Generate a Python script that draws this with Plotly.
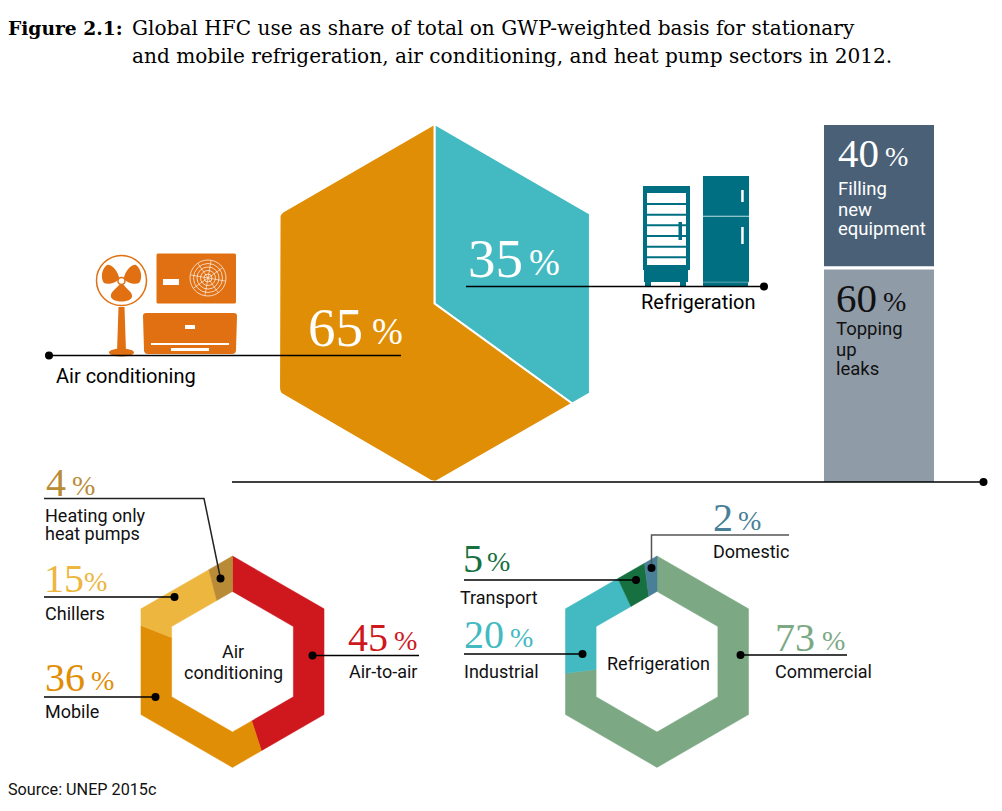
import math
import plotly.graph_objects as go

# ---- data ----
main_names = ["Refrigeration", "Air conditioning"]
main_shares = [35, 65]
main_colors = ["#43BAC1", "#E08E05"]

ac_names = ["Air-to-air", "Mobile", "Chillers", "Heating only heat pumps"]
ac_shares = [45, 36, 15, 4]
ac_colors = ["#CE181E", "#E08E05", "#EDB63F", "#B98B37"]

ref_names = ["Commercial", "Industrial", "Transport", "Domestic"]
ref_shares = [73, 20, 5, 2]
ref_colors = ["#7CA984", "#43BAC1", "#17703F", "#4A7F98"]

bar_names = ["Filling new equipment", "Topping up leaks"]
bar_shares = [40, 60]
bar_colors = ["#4A6076", "#909BA8"]

SERIF = "Liberation Serif"
SANS = "Roboto"
INK = "#111111"


def hex_radius(theta, R):
    t = theta % 60
    return R * math.cos(math.radians(30)) / math.cos(math.radians(t - 30))


def hex_xy(cx, cy, theta, R):
    r = hex_radius(theta, R)
    a = math.radians(theta)
    return cx + r * math.sin(a), cy - r * math.cos(a)


def edge(cx, cy, a0, a1, R, round_px=0):
    """Hexagon outline, clockwise from angle a0 to a1 (degrees from the top)."""
    angles = [a0]
    k = math.floor(a0 / 60) + 1
    while k * 60 < a1:
        angles.append(k * 60)
        k += 1
    angles.append(a1)
    pts = []
    for a in angles:
        p = hex_xy(cx, cy, a, R)
        if round_px and a not in (a0, a1):
            d = round_px / R * 60
            p0 = hex_xy(cx, cy, a - d, R)
            p2 = hex_xy(cx, cy, a + d, R)
            for i in range(7):
                u = i / 6
                pts.append(((1-u)**2*p0[0] + 2*u*(1-u)*p[0] + u*u*p2[0],
                            (1-u)**2*p0[1] + 2*u*(1-u)*p[1] + u*u*p2[1]))
        else:
            pts.append(p)
    return pts


def hex_slices(fig, cx, cy, R, r, shares, colors, names, line=None, round_for=()):
    total = sum(shares)
    start = 0.0
    for i, (s, c, n) in enumerate(zip(shares, colors, names)):
        a0 = start
        a1 = start + 360.0 * s / total
        pts = edge(cx, cy, a0, a1, R, 4.5 if i in round_for else 0)
        if r > 0:
            pts = pts + edge(cx, cy, a0, a1, r)[::-1]
        else:
            pts = pts + [(cx, cy)]
        pts.append(pts[0])
        fig.add_trace(go.Scatter(
            x=[p[0] for p in pts], y=[p[1] for p in pts], mode="lines",
            fill="toself", fillcolor=c,
            line=dict(color=line or c, width=2 if line else 0.5),
            name=n, hoverinfo="name"))
        start = a1


fig = go.Figure()

# stacked bar
bar_top, bar_h = 125, 357
b = bar_top
for name, v, c in zip(bar_names, bar_shares, bar_colors):
    h = v / sum(bar_shares) * bar_h
    fig.add_trace(go.Bar(x=[879], y=[h], base=[b], width=[110], marker=dict(color=c, line=dict(width=0)),
                         name=name, hoverinfo="name"))
    b += h
bar_split = bar_top + bar_shares[0] / sum(bar_shares) * bar_h

# hexagons (angles come from the shares)
hex_slices(fig, 434.5, 303.5, 179.5, 0, main_shares, main_colors, main_names, line="#FFFFFF", round_for=(1,))
hex_slices(fig, 232.5, 661.7, 105.7, 70.3, ac_shares, ac_colors, ac_names)
hex_slices(fig, 657, 661.7, 105.7, 70.3, ref_shares, ref_colors, ref_names)

# leader lines
leaders = [
    ([49, 401], [355.5, 355.5], "#000"),
    ([466, 764], [286.5, 286.5], "#000"),
    ([232, 984], [482, 482], "#000"),
    ([44, 204, 220.5], [498.5, 498.5, 578.5], "#222"),
    ([44, 174.5], [597, 597], "#000"),
    ([44, 155.5], [697, 697], "#000"),
    ([312.5, 419], [655.5, 655.5], "#000"),
    ([789, 651.5, 651.5], [535, 535, 568], "#555"),
    ([464, 636], [580, 580], "#000"),
    ([464, 582.5], [654, 654], "#000"),
    ([740.5, 847], [655, 655], "#000"),
]
for lx, ly, lc in leaders:
    fig.add_trace(go.Scatter(x=lx, y=ly, mode="lines", line=dict(color=lc, width=1.5), hoverinfo="skip"))
dots_x = [49, 764, 983.5, 220.5, 174.5, 155.5, 312.5, 651.5, 636, 582.5, 740.5]
dots_y = [355.5, 286.5, 482, 578.5, 597, 697, 655.5, 568, 580, 654, 655]
fig.add_trace(go.Scatter(x=dots_x, y=dots_y, mode="markers", marker=dict(color="#000", size=8), hoverinfo="skip"))

# ---- text ----
ann = []


def txt(x, y, s, size=17, color=INK, family=SANS, anchor="left", weight=None):
    f = dict(size=size, color=color, family=family)
    if weight:
        f["weight"] = weight
    ann.append(dict(x=x - (1 if anchor == "left" else 0), y=y, text=s, showarrow=False, xanchor=anchor, yanchor="middle",
                    font=f, borderpad=0, xref="x", yref="y"))


def pct(x, y, value, px_x, size, psize, color):
    txt(x, y, str(value), size=size, color=color, family=SERIF)
    txt(px_x, y + size * 0.085, "%", size=psize, color=color, family=SERIF)


TITLE_F = "DejaVu Serif"
txt(8, 28, "<b>Figure 2.1:</b>", 18.7, "#000", TITLE_F)
txt(132, 28, "Global HFC use as share of total on GWP-weighted basis for stationary", 20.1, "#000", TITLE_F)
txt(132, 56, "and mobile refrigeration, air conditioning, and heat pump sectors in 2012.", 20.1, "#000", TITLE_F)

pct(308, 327, main_shares[1], 372, 55, 37, "#FFFFFF")
pct(468, 258, main_shares[0], 529, 55, 37, "#FFFFFF")
txt(56, 376, main_names[1], 20, "#000")
txt(641, 302, main_names[0], 20, "#000")

pct(838, 153, bar_shares[0], 885, 41, 28, "#FFFFFF")
for y, s in zip([189, 210, 229], ["Filling", "new", "equipment"]):
    txt(838, y, s, 18.5, "#FFFFFF")
pct(836, 298, bar_shares[1], 883, 41, 28, "#111111")
for y, s in zip([329, 350, 369], ["Topping", "up", "leaks"]):
    txt(836, y, s, 18.5, "#111111")

pct(46, 482, ac_shares[3], 72, 40, 28, ac_colors[3])
txt(45, 515, "Heating only", 18)
txt(45, 533, "heat pumps", 18)
pct(44, 578, ac_shares[2], 84, 40, 28, ac_colors[2])
txt(45, 613, "Chillers", 18)
pct(45, 677, ac_shares[1], 91, 40, 28, ac_colors[1])
txt(45, 711, "Mobile", 18)
pct(348, 637, ac_shares[0], 394, 40, 28, ac_colors[0])
txt(349, 671, "Air-to-air", 18)
txt(233, 651, "Air", 18, anchor="center")
txt(233, 672, "conditioning", 18, anchor="center")

pct(713, 517, ref_shares[3], 738, 40, 28, ref_colors[3])
txt(713, 551, "Domestic", 18)
pct(463, 558, ref_shares[2], 487, 40, 28, ref_colors[2])
txt(460, 597, "Transport", 18)
pct(464, 634, ref_shares[1], 510, 40, 28, ref_colors[1])
txt(464, 671, "Industrial", 18)
pct(775, 637, ref_shares[0], 822, 40, 28, ref_colors[0])
txt(775, 671, "Commercial", 18)
txt(658, 663, "Refrigeration", 18, anchor="center")
txt(8, 789, "Source: UNEP 2015c", 16.2, "#111111")

# ---- icons ----
shapes = []
ORANGE = "#E07012"
PETROL = "#006F82"
WHITE = "#FFFFFF"


def rect(x0, y0, x1, y1, c):
    shapes.append(dict(type="rect", x0=x0, y0=y0, x1=x1, y1=y1, fillcolor=c, line=dict(width=0), layer="below"))


def circle(cx, cy, rx, ry, fill, lc=None, lw=0):
    shapes.append(dict(type="circle", x0=cx-rx, y0=cy-ry, x1=cx+rx, y1=cy+ry,
                       fillcolor=fill, line=dict(color=lc or fill, width=lw), layer="below"))


def path(d, fill=None, lc=None, lw=0):
    s = dict(type="path", path=d, line=dict(color=lc or "rgba(0,0,0,0)", width=lw), layer="below")
    if fill:
        s["fillcolor"] = fill
    shapes.append(s)


# standing fan
circle(121.5, 280.5, 25, 25, WHITE, ORANGE, 1.5)
path("M119 277 C116 268 110 264 107 265 C102 268 100 278 104 283 C108 285 116 283 119 279 Z", ORANGE)
path("M124 277 C127 268 133 264 136 265 C141 268 143 278 139 283 C135 285 127 283 124 279 Z", ORANGE)
path("M119 285 C116 289 110 292 111 297 C113 303 130 303 132 297 C133 292 126 289 124 285 Z", ORANGE)
circle(121.5, 281, 3.5, 3.5, WHITE, ORANGE, 1.5)
path("M118.5 307 L124.5 307 L126 352 L117 352 Z", ORANGE)
circle(121.5, 352.5, 12.5, 4, ORANGE)
# outdoor unit
path("M158 253.5 L234.5 253.5 Q236 253.5 236 255 L236 302 Q236 303.5 234.5 303.5 L158 303.5 Q156.5 303.5 156.5 302 L156.5 255 Q156.5 253.5 158 253.5 Z", ORANGE)
rect(163, 279, 179, 285, WHITE)
for r in (18, 14.5, 11, 7.5, 4):
    circle(208, 278, r, r, ORANGE, WHITE, 0.7)
for k in range(8):
    a = math.radians(k * 45 + 10)
    shapes.append(dict(type="line", x0=208, y0=278, x1=208 + 18 * math.cos(a), y1=278 + 18 * math.sin(a),
                       line=dict(color=WHITE, width=0.6), layer="below"))
# indoor unit
path("M146 313 L234 313 Q237 313 237 316 L236 350 Q236 354 232 354 L148 354 Q144 354 144 350 L143 316 Q143 313 146 313 Z", ORANGE)
rect(185, 325, 195, 329, WHITE)
rect(151, 343, 229, 345, WHITE)
rect(171, 348, 209, 351, WHITE)
# display fridge
rect(643, 186, 690, 270, PETROL)
rect(647, 193, 686, 265, WHITE)
for y in (204, 214.7, 225.3, 236, 246.7, 257.3):
    rect(647, y - 1, 686, y + 1, PETROL)
rect(678.5, 222, 682, 240, PETROL)
rect(644, 270, 688, 282, PETROL)
rect(645, 282, 651, 286, PETROL)
rect(680, 282, 686, 286, PETROL)
# upright fridge
rect(703, 176, 749, 282, PETROL)
rect(703, 215.8, 749, 216.8, "#BFDCE1")
rect(703, 282, 748, 286, PETROL)
rect(703, 281.7, 749, 282.5, "#7FB6C0")
rect(741.2, 190, 743.7, 202, WHITE)
rect(741.2, 227, 743.7, 244, WHITE)
# gap between the stacked bar segments
shapes.append(dict(type="rect", x0=824, x1=934, y0=bar_split - 1.6, y1=bar_split + 1.6,
                   fillcolor=WHITE, line=dict(width=0), layer="above"))

fig.update_layout(
    width=1002, height=811, margin=dict(l=0, r=0, t=0, b=0),
    paper_bgcolor="white", plot_bgcolor="white", showlegend=False, barmode="overlay",
    xaxis=dict(range=[0, 1002], visible=False, fixedrange=True),
    yaxis=dict(range=[811, 0], visible=False, fixedrange=True),
    annotations=ann, shapes=shapes,
)
fig.write_html("out.html", config=dict(displayModeBar=False),
               post_script="document.body.style.margin='0';document.body.style.overflow='hidden';")
